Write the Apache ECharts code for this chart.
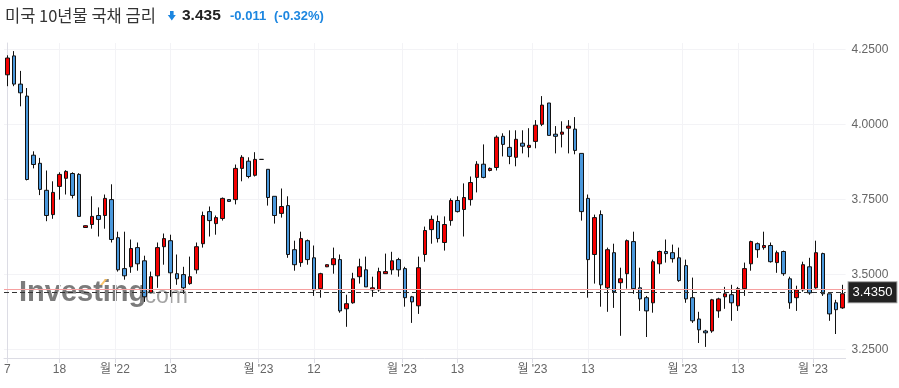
<!DOCTYPE html>
<html>
<head>
<meta charset="utf-8">
<script src="https://cdn.jsdelivr.net/npm/echarts@6/dist/echarts.min.js"></script>
<style>html,body{margin:0;padding:0;background:#fff}#c{width:899px;height:388px}</style>
</head>
<body>
<div id="c"></div>
<script>
const categories = [
'2022-11-07','2022-11-08','2022-11-09','2022-11-10','2022-11-14','2022-11-15','2022-11-16','2022-11-17','2022-11-18','2022-11-21','2022-11-22','2022-11-23','2022-11-24','2022-11-25','2022-11-28','2022-11-29','2022-11-30',
'2022-12-01','2022-12-02','2022-12-05','2022-12-06','2022-12-07','2022-12-08','2022-12-09','2022-12-12','2022-12-13','2022-12-14','2022-12-15','2022-12-16','2022-12-19','2022-12-20','2022-12-21','2022-12-22','2022-12-23','2022-12-26','2022-12-27','2022-12-28','2022-12-29','2022-12-30',
'2023-01-02','2023-01-03','2023-01-04','2023-01-05','2023-01-06','2023-01-09','2023-01-10','2023-01-11','2023-01-12','2023-01-13','2023-01-16','2023-01-17','2023-01-18','2023-01-19','2023-01-20','2023-01-23','2023-01-24','2023-01-25','2023-01-26','2023-01-27','2023-01-30','2023-01-31',
'2023-02-01','2023-02-02','2023-02-03','2023-02-06','2023-02-07','2023-02-08','2023-02-09','2023-02-10','2023-02-13','2023-02-14','2023-02-15','2023-02-16','2023-02-17','2023-02-20','2023-02-21','2023-02-22','2023-02-23','2023-02-24','2023-02-27','2023-02-28',
'2023-03-01','2023-03-02','2023-03-03','2023-03-06','2023-03-07','2023-03-08','2023-03-09','2023-03-10','2023-03-13','2023-03-14','2023-03-15','2023-03-16','2023-03-17','2023-03-20','2023-03-21','2023-03-22','2023-03-23','2023-03-24','2023-03-27','2023-03-28','2023-03-29','2023-03-30','2023-03-31',
'2023-04-03','2023-04-04','2023-04-05','2023-04-06','2023-04-07','2023-04-10','2023-04-11','2023-04-12','2023-04-13','2023-04-14','2023-04-17','2023-04-18','2023-04-19','2023-04-20','2023-04-21','2023-04-24','2023-04-25','2023-04-26','2023-04-27','2023-04-28',
'2023-05-01','2023-05-02','2023-05-03','2023-05-04','2023-05-05'];

const openV = [4.165,4.228,4.134,4.094,3.897,3.870,3.780,3.699,3.793,3.820,3.836,3.833,3.656,3.666,3.696,3.696,3.749,
3.622,3.519,3.525,3.589,3.545,3.438,3.495,3.592,3.612,3.502,3.499,3.469,3.515,3.602,3.709,3.669,3.686,3.749,3.749,3.853,3.877,3.830,
3.883,3.850,3.760,3.703,3.729,3.582,3.539,3.612,3.555,3.452,3.525,3.532,3.549,3.385,3.405,3.492,3.515,3.448,3.448,3.502,3.515,3.549,
3.519,3.425,3.395,3.566,3.649,3.676,3.606,3.679,3.746,3.716,3.749,3.823,3.867,3.846,3.856,3.960,3.923,3.890,3.937,3.923,
3.943,4.000,4.071,3.967,3.967,3.987,3.984,3.903,3.753,3.566,3.699,3.455,3.572,3.472,3.502,3.609,3.455,3.422,3.405,3.535,3.576,3.572,3.555,
3.529,3.422,3.351,3.311,3.311,3.378,3.425,3.432,3.395,3.452,3.535,3.602,3.589,3.596,3.539,3.576,3.485,3.422,3.448,3.525,
3.455,3.569,3.435,3.405,3.388];
const closeV = [4.221,4.134,4.105,3.816,3.866,3.783,3.696,3.773,3.833,3.843,3.763,3.693,3.662,3.693,3.683,3.753,3.616,
3.515,3.495,3.586,3.535,3.425,3.492,3.589,3.619,3.505,3.485,3.455,3.492,3.592,3.696,3.679,3.689,3.753,3.743,3.853,3.890,3.826,3.883,
3.883,3.756,3.696,3.726,3.566,3.532,3.619,3.549,3.448,3.502,3.532,3.552,3.378,3.402,3.485,3.525,3.458,3.455,3.509,3.509,3.545,3.515,
3.422,3.408,3.522,3.646,3.683,3.619,3.666,3.746,3.709,3.756,3.806,3.867,3.823,3.853,3.957,3.933,3.893,3.950,3.927,3.930,
3.997,4.064,3.963,3.960,3.974,3.994,3.913,3.709,3.549,3.689,3.465,3.582,3.442,3.485,3.612,3.452,3.418,3.378,3.542,3.576,3.569,3.552,3.479,
3.418,3.345,3.315,3.305,3.415,3.418,3.435,3.405,3.452,3.519,3.609,3.582,3.596,3.542,3.572,3.502,3.405,3.448,3.532,3.438,
3.572,3.435,3.368,3.382,3.435];
const lowV = [4.127,4.127,4.060,3.813,3.853,3.764,3.677,3.685,3.749,3.766,3.753,3.693,3.655,3.652,3.626,3.652,3.606,
3.509,3.482,3.505,3.512,3.408,3.437,3.455,3.532,3.425,3.465,3.435,3.465,3.502,3.589,3.626,3.632,3.679,3.742,3.733,3.810,3.820,3.826,
3.883,3.729,3.669,3.689,3.555,3.512,3.525,3.532,3.428,3.422,3.524,3.502,3.372,3.325,3.402,3.469,3.458,3.425,3.442,3.502,3.499,3.492,
3.392,3.338,3.368,3.542,3.602,3.606,3.579,3.662,3.706,3.626,3.729,3.773,3.820,3.843,3.846,3.893,3.867,3.860,3.903,3.890,
3.920,3.994,3.963,3.903,3.923,3.903,3.900,3.679,3.422,3.469,3.392,3.375,3.388,3.295,3.452,3.435,3.378,3.291,3.372,3.502,3.539,3.539,3.475,
3.405,3.338,3.271,3.258,3.305,3.355,3.385,3.345,3.378,3.428,3.512,3.555,3.582,3.539,3.505,3.495,3.385,3.378,3.442,3.432,
3.452,3.428,3.345,3.301,3.385];
const highV = [4.230,4.244,4.178,4.121,3.910,3.888,3.846,3.810,3.840,3.847,3.840,3.837,3.663,3.760,3.723,3.766,3.800,
3.642,3.642,3.616,3.606,3.562,3.509,3.606,3.636,3.632,3.566,3.525,3.559,3.606,3.709,3.726,3.696,3.756,3.750,3.866,3.897,3.890,3.907,
3.883,3.850,3.760,3.786,3.760,3.612,3.642,3.616,3.596,3.505,3.533,3.589,3.566,3.432,3.505,3.552,3.559,3.492,3.522,3.569,3.575,3.555,
3.525,3.428,3.559,3.659,3.696,3.696,3.693,3.753,3.760,3.803,3.826,3.877,3.933,3.856,3.963,3.970,3.980,3.980,3.980,3.987,
4.014,4.094,4.071,3.994,4.010,4.014,4.024,3.903,3.766,3.699,3.713,3.589,3.602,3.522,3.616,3.642,3.522,3.428,3.549,3.579,3.616,3.599,3.589,
3.549,3.489,3.375,3.315,3.418,3.422,3.458,3.465,3.458,3.539,3.612,3.606,3.642,3.606,3.579,3.579,3.492,3.462,3.542,3.555,
3.612,3.572,3.435,3.415,3.465];

const yTicks = [3.25, 3.5, 3.75, 4.0, 4.25];
const dayTicks = ['2022-11-07','2022-11-18','2022-12-13','2023-01-12','2023-02-13','2023-03-13','2023-04-13'];
const dayTickLabels = ['7','18','13','12','13','13','13'];
const monthTicks = ['2022-12-01','2023-01-02','2023-02-01','2023-03-01','2023-04-03','2023-05-01'];
const monthTickLabels = ["월 '22","월 '23","월 '23","월 '23","월 '23","월 '23"];
const lastPrice = 3.435;
const change = -0.011;
const prevClose = lastPrice - change;

const ohlc = categories.map((d, i) => [openV[i], closeV[i], lowV[i], highV[i]]);
const tickPos = [];
dayTicks.forEach((d, i) => tickPos.push({ p: categories.indexOf(d), t: dayTickLabels[i] }));
monthTicks.forEach((d, i) => tickPos.push({ p: categories.indexOf(d) - 0.5, t: monthTickLabels[i] }));
tickPos.sort((a, b) => a.p - b.p);

const FONT = 'Arial, "Liberation Sans", "Noto Sans CJK KR", sans-serif';
const chart = echarts.init(document.getElementById('c'), null, { renderer: 'canvas' });
chart.setOption({
  animation: false,
  backgroundColor: '#fff',
  grid: { left: 4, right: 53.4, top: 43, bottom: 30 },
  xAxis: [
    { type: 'category', data: categories, boundaryGap: true, show: false },
    {
      type: 'value', min: -0.5, max: categories.length - 0.5, position: 'bottom',
      axisLine: { show: true, lineStyle: { color: '#dcdce4', width: 1 } },
      axisTick: { show: true, length: 5, lineStyle: { color: '#dcdce4' }, customValues: tickPos.map(o => o.p) },
      axisLabel: {
        customValues: tickPos.map(o => o.p), color: '#666', fontSize: 12, fontFamily: FONT, margin: 6,
        formatter: v => { const f = tickPos.find(o => Math.abs(o.p - v) < 1e-6); return f ? f.t : ''; }
      },
      splitLine: { show: true, lineStyle: { color: '#f3f3f6' } }
    }
  ],
  yAxis: {
    type: 'value', position: 'right', min: 3.221, max: 4.271,
    axisLine: { show: true, lineStyle: { color: '#dcdce4' } },
    axisTick: { show: false, customValues: yTicks },
    axisLabel: { customValues: yTicks, color: '#666', fontSize: 12, fontFamily: FONT, margin: 6, formatter: v => v.toFixed(4) },
    splitLine: { show: true, lineStyle: { color: '#f3f3f6' } }
  },
  graphic: [
    { type: 'text', x: 5, y: 16, z: 10, style: { text: '미국 10년물 국채 금리', font: '16.5px "Noto Sans CJK KR", sans-serif', fill: '#333', verticalAlign: 'middle' } },
    { type: 'polygon', z: 10, shape: { points: [[170, 11], [173.6, 11], [173.6, 15], [175.8, 15], [171.8, 20.5], [167.8, 15], [170, 15]] }, style: { fill: '#1c86e0' } },
    { type: 'text', x: 182, y: 16, z: 10, style: { text: lastPrice.toFixed(3), font: 'bold 15.5px Arial, "Liberation Sans", sans-serif', fill: '#222', verticalAlign: 'middle' } },
    { type: 'text', x: 230, y: 16, z: 10, style: { text: change.toFixed(3), font: 'bold 13px Arial, "Liberation Sans", sans-serif', fill: '#1c86e0', verticalAlign: 'middle' } },
    { type: 'text', x: 274, y: 16, z: 10, style: { text: '(-0.32%)', font: 'bold 13px Arial, "Liberation Sans", sans-serif', fill: '#1c86e0', verticalAlign: 'middle' } },
    { type: 'text', x: 19, y: 278, z: -1, silent: true, style: { text: 'Investing', font: 'bold 29px Arial, "Liberation Sans", sans-serif', fill: 'rgba(100,100,100,0.85)' } },
    { type: 'text', x: 138, y: 285, z: -1, silent: true, style: { text: '.com', font: '23px Arial, "Liberation Sans", sans-serif', fill: 'rgba(140,140,140,0.8)' } },
    { type: 'polygon', z: -1, silent: true, shape: { points: [[100, 285], [105, 279], [107.5, 279], [102.5, 285]] }, style: { fill: 'rgba(250,190,90,0.9)' } }
  ],
  series: [{
    type: 'candlestick',
    xAxisIndex: 0,
    yAxisIndex: 0,
    data: ohlc,
    barWidth: 4,
    itemStyle: { color: '#f50000', color0: '#4a98dc', borderColor: '#111', borderColor0: '#111', borderWidth: 1 },
    markLine: {
      silent: true, symbol: 'none', animation: false,
      data: [
        { yAxis: prevClose, lineStyle: { color: '#f6a0a0', type: 'solid', width: 1 }, label: { show: false } },
        { yAxis: lastPrice, lineStyle: { color: '#333', type: [5, 3], width: 1 },
          label: { show: true, position: 'end', distance: 3, formatter: lastPrice.toFixed(4), color: '#fff', backgroundColor: '#222',
                   borderColor: '#999', borderWidth: 1, padding: [4, 4, 3, 4], fontSize: 13, fontFamily: FONT } }
      ]
    }
  }]
});
</script>
</body>
</html>
